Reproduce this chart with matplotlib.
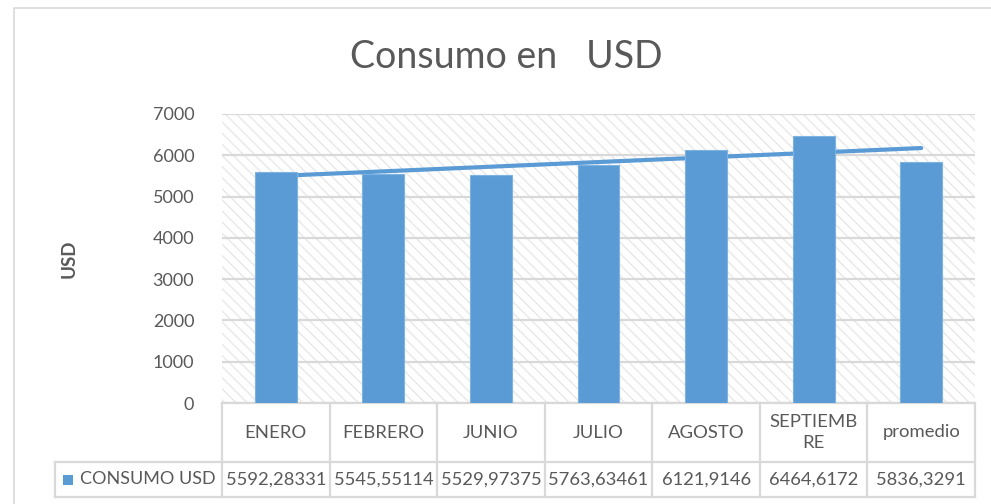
import numpy as np
import matplotlib
matplotlib.use("Agg")
import matplotlib.pyplot as plt
from matplotlib.patches import Rectangle
from matplotlib.lines import Line2D

plt.rcParams['font.family'] = ['Lato', 'DejaVu Sans']
plt.rcParams['hatch.color'] = '#e8e8e8'
plt.rcParams['hatch.linewidth'] = 1.0

meses = ['ENERO', 'FEBRERO', 'JUNIO', 'JULIO', 'AGOSTO', 'SEPTIEMB\nRE', 'promedio']
consumo = [5592.28331, 5545.55114, 5529.97375, 5763.63461, 6121.9146, 6464.6172, 5836.3291]
etiquetas = ['5592,28331', '5545,55114', '5529,97375', '5763,63461', '6121,9146', '6464,6172', '5836,3291']
serie = 'CONSUMO USD'

azul = '#5b9bd5'
gris_txt = '#595959'
gris_lin = '#d9d9d9'

fig = plt.figure(figsize=(9.91, 5.04), dpi=100)
ax = fig.add_axes([222 / 991, 1 - 403 / 504, 753 / 991, 289 / 504])

x = np.arange(len(meses))
ax.set_xlim(-0.5, len(meses) - 0.5)
ax.set_ylim(0, 7000)

# fondo rayado del area de trazado
ax.add_patch(Rectangle((0, 0), 1, 1, transform=ax.transAxes, facecolor='white',
                       hatch='\\\\\\', edgecolor='#e8e8e8', linewidth=0, zorder=0))
ax.set_yticks(range(0, 7001, 1000))
ax.yaxis.grid(True, color=gris_lin, linewidth=1.6, zorder=1)
ax.set_axisbelow(True)

# linea de tendencia lineal (queda detras de las barras)
m, b = np.polyfit(x, consumo, 1)
ax.plot(x, m * x + b, color=azul, linewidth=3, solid_capstyle='round', zorder=2)

ax.bar(x, consumo, width=0.39, color=azul, edgecolor='#7eb2e0', linewidth=0.8, zorder=3)

for s in ax.spines.values():
    s.set_visible(False)
ax.tick_params(axis='y', length=0, labelsize=13, labelcolor=gris_txt, pad=20)
ax.tick_params(axis='x', length=0, labelbottom=False)
ax.set_ylabel('USD', fontsize=13.5, fontweight='bold', color=gris_txt, labelpad=54)

fig.text(506 / 991, 1 - 57 / 504, 'Consumo en   USD', fontsize=27, color=gris_txt,
         ha='center', va='center')

# tabla de datos bajo el eje
n = len(meses)
r1 = -59 / 289
r2 = -94 / 289
hdr = -167 / 753
kw = dict(transform=ax.transAxes, color=gris_lin, linewidth=1.6, clip_on=False)
ax.add_line(Line2D([0, 1], [0, 0], **kw))
ax.add_line(Line2D([hdr, 1], [r1, r1], **kw))
ax.add_line(Line2D([hdr, 1], [r2, r2], **kw))
ax.add_line(Line2D([hdr, hdr], [r1, r2], **kw))
for i in range(n + 1):
    ax.add_line(Line2D([i / n, i / n], [0, r2], **kw))
for i in range(n):
    cx = (i + 0.5) / n
    ax.text(cx, r1 / 2, meses[i], transform=ax.transAxes, ha='center', va='center',
            fontsize=13.3, color=gris_txt, linespacing=1.4)
    ax.text(cx, (r1 + r2) / 2, etiquetas[i], transform=ax.transAxes, ha='center',
            va='center', fontsize=13.2, color=gris_txt)
ax.add_patch(Rectangle((hdr + 8 / 753, (r1 + r2) / 2 - 5 / 289), 10 / 753, 10 / 289,
                       transform=ax.transAxes, facecolor=azul, edgecolor='none', clip_on=False))
ax.text(hdr + 25 / 753, (r1 + r2) / 2, serie, transform=ax.transAxes, ha='left',
        va='center', fontsize=13, color=gris_txt)

# borde del grafico
fig.add_artist(Rectangle((14 / 991, -0.01), 1.0, 1 - 8 / 504 + 0.01, transform=fig.transFigure,
                         facecolor='none', edgecolor=gris_lin, linewidth=1.2))

fig.savefig('out.png', dpi=100)
